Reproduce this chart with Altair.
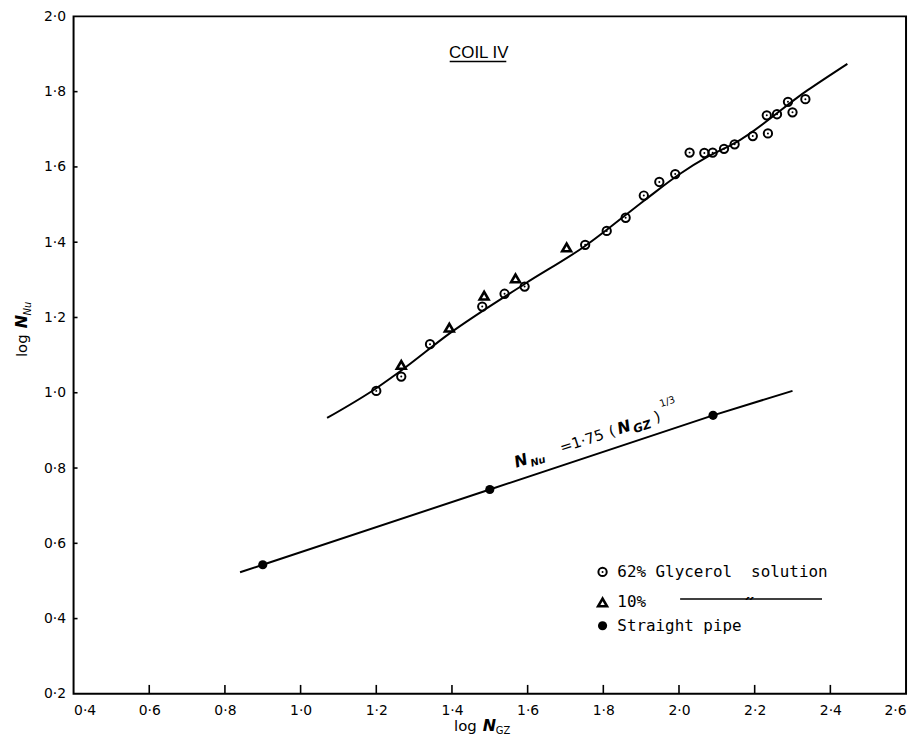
import altair as alt
import pandas as pd

# ---- data ----
gly_x = [1.200, 1.266, 1.342, 1.480, 1.539, 1.592, 1.752, 1.809, 1.859, 1.907, 1.948, 1.990,
         2.028, 2.067, 2.089, 2.119, 2.147, 2.195, 2.235, 2.232, 2.259, 2.300, 2.288, 2.334]
gly_y = [1.005, 1.043, 1.129, 1.229, 1.263, 1.282, 1.393, 1.430, 1.465, 1.524, 1.560, 1.581,
         1.638, 1.637, 1.638, 1.648, 1.660, 1.682, 1.689, 1.737, 1.740, 1.745, 1.773, 1.780]
tri_x = [1.266, 1.393, 1.485, 1.568, 1.703]
tri_y = [1.074, 1.173, 1.258, 1.304, 1.386]
pipe_x = [0.90, 1.50, 2.09]
pipe_y = [0.543, 0.743, 0.940]
up_x = [1.07, 1.20, 1.266, 1.393, 1.592, 1.752, 1.911, 2.00, 2.077, 2.147, 2.34, 2.445]
up_y = [0.933, 1.012, 1.059, 1.157, 1.289, 1.390, 1.513, 1.580, 1.628, 1.663, 1.804, 1.874]
low_x = [0.84, 0.90, 1.50, 2.09, 2.30]
low_y = [0.523, 0.543, 0.743, 0.940, 1.005]
x_ticks = [0.4, 0.6, 0.8, 1.0, 1.2, 1.4, 1.6, 1.8, 2.0, 2.2, 2.4, 2.6]
y_ticks = [0.2, 0.4, 0.6, 0.8, 1.0, 1.2, 1.4, 1.6, 1.8, 2.0]

W, H = 838, 682
FONT = "DejaVu Sans"
MONO = "DejaVu Sans Mono"

xs = alt.Scale(domain=[0.4, 2.6], nice=False, zero=False)
ys = alt.Scale(domain=[0.2, 2.0], nice=False, zero=False)
lab = "replace(format(datum.value, '.1f'), '.', '·')"
xaxis = alt.Axis(values=x_ticks, labelExpr=lab, title=None, grid=False, ticks=False, tickSize=0,
                 domain=False, labelPadding=10, labelFont=FONT, labelFontSize=14, labelColor="black")
yaxis = alt.Axis(values=y_ticks, labelExpr=lab, title=None, grid=False, ticks=False, tickSize=0,
                 domain=False, labelPadding=8, labelFont=FONT, labelFontSize=14, labelColor="black")
X = lambda f="x": alt.X(f"{f}:Q", scale=xs, axis=xaxis)
Y = lambda f="y": alt.Y(f"{f}:Q", scale=ys, axis=yaxis)

df_gly = pd.DataFrame({"x": gly_x, "y": gly_y})
df_tri = pd.DataFrame({"x": tri_x, "y": tri_y})
df_pipe = pd.DataFrame({"x": pipe_x, "y": pipe_y})
df_up = pd.DataFrame({"x": up_x, "y": up_y})
df_low = pd.DataFrame({"x": low_x, "y": low_y})

up_line = alt.Chart(df_up).mark_line(color="black", strokeWidth=2, interpolate="monotone").encode(x=X(), y=Y())
low_line = alt.Chart(df_low).mark_line(color="black", strokeWidth=2).encode(x=X(), y=Y())

CIRC = dict(shape="circle", filled=False, color="black", strokeWidth=2, size=70, opacity=1)
DOT = dict(shape="circle", filled=True, color="black", size=4, opacity=1)
TRI = dict(shape="triangle-up", filled=True, fill="white", stroke="black", strokeWidth=2.6,
           size=80, opacity=1)
PIPE = dict(shape="circle", filled=True, color="black", size=85, opacity=1)

gly = alt.Chart(df_gly).mark_point(**CIRC).encode(x=X(), y=Y())
gly_dot = alt.Chart(df_gly).mark_point(**DOT).encode(x=X(), y=Y())
tri = alt.Chart(df_tri).mark_point(**TRI).encode(x=X(), y=Y())
pipe = alt.Chart(df_pipe).mark_point(**PIPE).encode(x=X(), y=Y())

# inward ticks
xt = alt.Chart(pd.DataFrame({"x": x_ticks[1:-1]})).mark_rule(color="black", strokeWidth=1.6).encode(
    x=X(), y=alt.value(H), y2=alt.value(H - 9))
yt = alt.Chart(pd.DataFrame({"y": y_ticks[1:-1]})).mark_rule(color="black", strokeWidth=1.6).encode(
    y=Y(), x=alt.value(0), x2=alt.value(4))


def txt(x, y, s, size=13, dx=0, dy=0, angle=0, weight="normal", style="normal",
        font=FONT, align="left", baseline="alphabetic", pixel=False):
    d = pd.DataFrame({"x": [x], "y": [y], "t": [s]})
    kw = dict(fontSize=size, dx=dx, dy=dy, fontWeight=weight, fontStyle=style, font=font,
              align=align, baseline=baseline, color="black")
    if angle:
        kw["angle"] = angle
    m = alt.Chart(d).mark_text(**kw)
    if pixel:
        return m.encode(x=alt.value(x), y=alt.value(y), text="t:N")
    return m.encode(x=X(), y=Y(), text="t:N")


EX, EY = 1.570, 0.801  # start of the equation label
texts = [
    # title
    txt(1.471, 1.889, "COIL IV", size=17, font="Liberation Sans", align="center"),
    # equation along lower line
    txt(EX, EY, "N", size=16, angle=342, weight="bold", style="italic"),
    txt(EX, EY, "Nu", size=10, dx=15, dy=4, angle=342, weight="bold", style="italic"),
    txt(EX, EY, "=1·75", size=15, dx=48, angle=342),
    txt(EX, EY, "(", size=15, dx=100, angle=342),
    txt(EX, EY, "N", size=16, dx=109, angle=342, weight="bold", style="italic"),
    txt(EX, EY, "GZ", size=12, dx=124, dy=4, angle=342, weight="bold", style="italic"),
    txt(EX, EY, ")", size=15, dx=148, angle=342),
    txt(EX, EY, "1/3", size=10, dx=157, dy=-13, angle=342),
    # legend
    txt(1.837, 0.524, "62%\u00a0Glycerol\u00a0\u00a0solution", size=16, font=MONO, baseline="middle"),
    txt(1.837, 0.443, "10%", size=16, font=MONO, baseline="middle"),
    txt(2.187, 0.446, "״", size=16, align="center", baseline="middle", weight="bold"),
    txt(1.837, 0.381, "Straight\u00a0pipe", size=16, font=MONO, baseline="middle"),
    # axis titles (pixel placed)
    txt(383, 719, "log", size=15, pixel=True),
    txt(412, 719, "N", size=16, weight="bold", style="italic", pixel=True),
    txt(425, 722, "GZ", size=10, pixel=True),
    txt(-47, 343, "log", size=15, angle=270, pixel=True),
    txt(-47, 314, "N", size=16, angle=270, weight="bold", style="italic", pixel=True),
    txt(-43, 301, "Nu", size=10, angle=270, style="italic", pixel=True),
]

leg_df = pd.DataFrame({"x": [1.798, 1.798, 1.798], "y": [0.524, 0.443, 0.381]})
leg_c = alt.Chart(leg_df.iloc[[0]]).mark_point(**CIRC).encode(x=X(), y=Y())
leg_cd = alt.Chart(leg_df.iloc[[0]]).mark_point(**DOT).encode(x=X(), y=Y())
leg_t = alt.Chart(leg_df.iloc[[1]]).mark_point(**TRI).encode(x=X(), y=Y())
leg_p = alt.Chart(leg_df.iloc[[2]]).mark_point(**PIPE).encode(x=X(), y=Y())
ditto = alt.Chart(pd.DataFrame({"x": [2.003], "x2": [2.378], "y": [0.452]})).mark_rule(
    color="black", strokeWidth=1.6).encode(x=X(), x2="x2:Q", y=Y())
underline = alt.Chart(pd.DataFrame({"x": [1.394], "x2": [1.5436], "y": [1.880]})).mark_rule(
    color="black", strokeWidth=1.5).encode(x=X(), x2="x2:Q", y=Y())

chart = alt.layer(
    xt, yt, up_line, low_line, gly, gly_dot, tri, pipe,
    ditto, underline, leg_c, leg_cd, leg_t, leg_p, *texts
).properties(
    width=W, height=H,
    autosize=alt.AutoSizeParams(type="none"),
    padding={"left": 66, "top": 6, "right": 5, "bottom": 42},
    background="white",
).configure_view(stroke="black", strokeWidth=2)

chart.save("out.html", embed_options={"renderer": "svg", "actions": False})
